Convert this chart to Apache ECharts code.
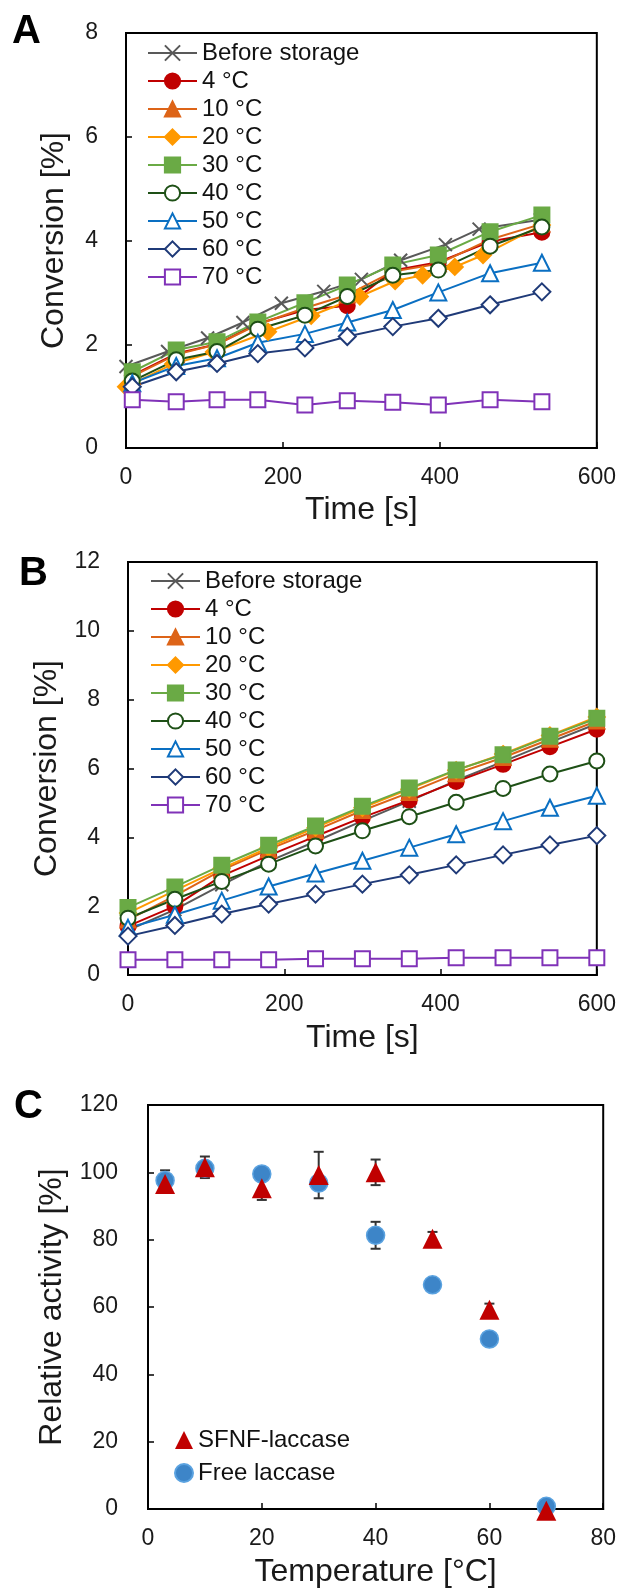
<!DOCTYPE html>
<html>
<head>
<meta charset="utf-8">
<script src="https://cdn.jsdelivr.net/npm/echarts@6/dist/echarts.min.js"></script>
<style>
html, body { margin: 0; padding: 0; background: #fff; }
#main { width: 619px; height: 1591px; }
</style>
</head>
<body>
<div id="main"></div>
<script>
// ---- data ----
var names = ['Before storage', '4 °C', '10 °C', '20 °C', '30 °C', '40 °C', '50 °C', '60 °C', '70 °C'];

// panel A (time in s, conversion in %)
var timeA = [8, 64, 116, 168, 228, 282, 340, 398, 464, 530];
var timeABefore = [0, 53, 104, 149, 198, 252, 300, 350, 407, 450, 528];
var timeA20 = [0, 60, 112, 181, 236, 298, 343, 378, 419, 455, 530];
var aBefore = [1.57, 1.86, 2.12, 2.42, 2.79, 3.02, 3.25, 3.62, 3.92, 4.22, 4.40];
var a4 = [1.40, 1.82, 2.00, 2.40, 2.66, 2.74, 3.42, 3.58, 3.98, 4.16];
var a10 = [1.38, 1.80, 2.00, 2.38, 2.70, 2.95, 3.40, 3.55, 4.02, 4.32];
var a20 = [1.18, 1.62, 1.85, 2.24, 2.55, 2.92, 3.22, 3.33, 3.49, 3.72, 4.30];
var a30 = [1.47, 1.89, 2.05, 2.43, 2.80, 3.14, 3.53, 3.72, 4.17, 4.49];
var a40 = [1.29, 1.70, 1.86, 2.29, 2.56, 2.92, 3.33, 3.43, 3.89, 4.26];
var a50 = [1.25, 1.58, 1.73, 2.03, 2.20, 2.42, 2.66, 3.00, 3.37, 3.57];
var a60 = [1.18, 1.47, 1.63, 1.82, 1.93, 2.15, 2.34, 2.50, 2.76, 3.01];
var a70 = [0.93, 0.89, 0.93, 0.93, 0.83, 0.91, 0.88, 0.83, 0.93, 0.89];

// panel B
var timeB = [0, 60, 120, 180, 240, 300, 360, 420, 480, 540, 600];
var bBefore = [1.30, 1.90, 2.62, 3.30, 3.88, 4.48, 5.05, 5.65, 6.20, 6.76, 7.30];
var b4 = [1.42, 2.00, 2.88, 3.47, 4.03, 4.58, 5.08, 5.62, 6.12, 6.63, 7.14];
var b10 = [1.60, 2.30, 3.05, 3.65, 4.20, 4.78, 5.30, 5.85, 6.32, 6.85, 7.38];
var b20 = [1.80, 2.45, 3.10, 3.70, 4.28, 4.86, 5.40, 5.95, 6.42, 6.96, 7.50];
var b30 = [1.96, 2.56, 3.19, 3.77, 4.33, 4.90, 5.43, 5.96, 6.40, 6.94, 7.46];
var b40 = [1.65, 2.20, 2.72, 3.22, 3.75, 4.19, 4.60, 5.02, 5.42, 5.84, 6.22];
var b50 = [1.37, 1.75, 2.16, 2.57, 2.95, 3.32, 3.70, 4.09, 4.47, 4.86, 5.21];
var b60 = [1.13, 1.44, 1.77, 2.06, 2.35, 2.64, 2.91, 3.20, 3.49, 3.78, 4.05];
var b70 = [0.44, 0.44, 0.44, 0.44, 0.47, 0.47, 0.47, 0.50, 0.50, 0.50, 0.50];

// panel C (temperature in °C, relative activity in %)
var tempC = [3, 10, 20, 30, 40, 50, 60, 70];
var sfnf = [96.5, 101.5, 95.3, 99.2, 100.0, 80.3, 59.2, -0.5];
var sfnfErr = [1.5, 3.2, 3.5, 6.9, 3.8, 2.0, 1.8, 0];
var freeLac = [97.6, 101.2, 99.5, 96.8, 81.3, 66.6, 50.5, 0.8];
var freeErr = [3.0, 1.5, 1.0, 1.0, 4.0, 0.8, 0.8, 0];

var ticksA = [0, 2, 4, 6, 8];
var ticksB = [0, 2, 4, 6, 8, 10, 12];

// ---- styles ----
var FONT = '"Liberation Sans", Arial, sans-serif';
var crossPath = 'path://M0,0L10,10M10,0L0,10';
var looks = [
  { color: '#595959', symbol: crossPath, size: 13, fill: 'none' },
  { color: '#C00000', symbol: 'circle', size: 15 },
  { color: '#DD6418', symbol: 'triangle', size: 15 },
  { color: '#FF9900', symbol: 'diamond', size: 16 },
  { color: '#6AAA45', symbol: 'rect', size: 15 },
  { color: '#1E5016', symbol: 'emptyCircle', size: 15 },
  { color: '#0A6FC2', symbol: 'emptyTriangle', size: 16 },
  { color: '#1F3A78', symbol: 'emptyDiamond', size: 17 },
  { color: '#8032B8', symbol: 'emptyRect', size: 15 }
];

function pairs(xs, ys) {
  return ys.map(function (y, i) { return [xs[i], y]; });
}

function lineSeries(idx, grid, xs, ys) {
  var lk = looks[idx];
  var s = {
    name: names[idx],
    type: 'line',
    xAxisIndex: grid,
    yAxisIndex: grid,
    data: pairs(xs, ys),
    symbol: lk.symbol,
    symbolSize: lk.size,
    showSymbol: true,
    color: lk.color,
    lineStyle: { color: lk.color, width: 2 },
    itemStyle: { color: lk.color, borderColor: lk.color, borderWidth: 2 },
    emphasis: { disabled: true },
    animation: false
  };
  if (lk.fill === 'none') {
    s.itemStyle = { color: 'rgba(0,0,0,0)', borderColor: lk.color, borderWidth: 2 };
  }
  return s;
}

function axisCommon() {
  return {
    axisLine: { show: true, lineStyle: { color: '#000', width: 2 } },
    axisTick: { show: true, inside: true, length: 6, lineStyle: { color: '#000', width: 1.5 } },
    splitLine: { show: false },
    axisLabel: { color: '#1a1a1a', fontSize: 23, fontFamily: FONT },
    nameLocation: 'middle',
    nameTextStyle: { color: '#1a1a1a', fontSize: 32, fontFamily: FONT }
  };
}

function xAx(grid, max, interval, name, gap) {
  var a = axisCommon();
  a.type = 'value'; a.gridIndex = grid; a.min = 0; a.max = max; a.interval = interval;
  a.name = name; a.nameGap = gap;
  a.axisLabel.margin = 18;
  return a;
}

function yAx(grid, max, interval, name, gap, margin) {
  var a = axisCommon();
  a.type = 'value'; a.gridIndex = grid; a.min = 0; a.max = max; a.interval = interval;
  a.name = name; a.nameGap = gap;
  a.axisLabel.margin = margin;
  return a;
}

var series = [];
// A
series.push(lineSeries(0, 0, timeABefore, aBefore));
series.push(lineSeries(1, 0, timeA, a4));
series.push(lineSeries(2, 0, timeA, a10));
series.push(lineSeries(3, 0, timeA20, a20));
series.push(lineSeries(4, 0, timeA, a30));
series.push(lineSeries(5, 0, timeA, a40));
series.push(lineSeries(6, 0, timeA, a50));
series.push(lineSeries(7, 0, timeA, a60));
series.push(lineSeries(8, 0, timeA, a70));
// B
[bBefore, b4, b10, b20, b30, b40, b50, b60, b70].forEach(function (ys, i) {
  series.push(lineSeries(i, 1, timeB, ys));
});

// C error bars
function errData(vals, errs) {
  return vals.map(function (v, i) { return [tempC[i], v - errs[i], v + errs[i]]; });
}
function errRender(params, api) {
  var x = api.value(0);
  var lo = api.coord([x, api.value(1)]);
  var hi = api.coord([x, api.value(2)]);
  var st = { stroke: '#333', lineWidth: 2 };
  return {
    type: 'group',
    children: [
      { type: 'line', shape: { x1: lo[0], y1: lo[1], x2: hi[0], y2: hi[1] }, style: st },
      { type: 'line', shape: { x1: lo[0] - 5, y1: lo[1], x2: lo[0] + 5, y2: lo[1] }, style: st },
      { type: 'line', shape: { x1: hi[0] - 5, y1: hi[1], x2: hi[0] + 5, y2: hi[1] }, style: st }
    ]
  };
}
series.push({ type: 'custom', xAxisIndex: 2, yAxisIndex: 2, renderItem: errRender,
  data: errData(freeLac, freeErr), z: 1, animation: false, silent: true });
series.push({ type: 'custom', xAxisIndex: 2, yAxisIndex: 2, renderItem: errRender,
  data: errData(sfnf, sfnfErr), z: 1, animation: false, silent: true });
series.push({ name: 'SFNF-laccase', type: 'scatter', xAxisIndex: 2, yAxisIndex: 2,
  data: pairs(tempC, sfnf), symbol: 'triangle', symbolSize: 20, z: 3, clip: false,
  itemStyle: { color: '#C00000', opacity: 1 },
  emphasis: { disabled: true }, animation: false });
series.push({ name: 'Free laccase', type: 'scatter', xAxisIndex: 2, yAxisIndex: 2,
  data: pairs(tempC, freeLac), symbol: 'circle', symbolSize: 18, z: 2,
  itemStyle: { color: '#3D85C8', borderColor: '#5AA2E0', borderWidth: 1.5, opacity: 1 },
  emphasis: { disabled: true }, animation: false });

var legendBase = {
  orient: 'vertical',
  padding: 0,
  itemGap: 4,
  itemWidth: 49,
  itemHeight: 19,
  selectedMode: false,
  textStyle: { color: '#111', fontSize: 24, fontFamily: FONT }
};

var option = {
  backgroundColor: '#fff',
  animation: false,
  graphic: [
    { type: 'text', left: 12, top: 12, style: { text: 'A', font: 'bold 40px ' + FONT, fill: '#000' } },
    { type: 'text', left: 19, top: 554, style: { text: 'B', font: 'bold 40px ' + FONT, fill: '#000' } },
    { type: 'text', left: 14, top: 1087, style: { text: 'C', font: 'bold 40px ' + FONT, fill: '#000' } }
  ],
  grid: [
    { left: 126, top: 33, width: 471, height: 415, show: true, borderColor: '#000', borderWidth: 2, backgroundColor: '#fff' },
    { left: 128, top: 562, width: 470, height: 413, show: true, borderColor: '#000', borderWidth: 2, backgroundColor: '#fff' },
    { left: 148, top: 1105, width: 456, height: 404, show: true, borderColor: '#000', borderWidth: 2, backgroundColor: '#fff' }
  ],
  xAxis: [
    xAx(0, 600, 200, 'Time [s]', 46),
    xAx(1, 600, 200, 'Time [s]', 47),
    xAx(2, 80, 20, 'Temperature [°C]', 47)
  ],
  yAxis: [
    yAx(0, ticksA[ticksA.length - 1], ticksA[1] - ticksA[0], 'Conversion [%]', 56, 28),
    yAx(1, ticksB[ticksB.length - 1], ticksB[1] - ticksB[0], 'Conversion [%]', 60, 28),
    yAx(2, 120, 20, 'Relative activity [%]', 80, 30)
  ],
  legend: [
    Object.assign({}, legendBase, { left: 147, top: 41, data: names }),
    Object.assign({}, legendBase, { left: 150, top: 569, data: names }),
    Object.assign({}, legendBase, { left: 174, top: 1428, itemWidth: 18, itemHeight: 18, itemGap: 9,
      data: ['SFNF-laccase', 'Free laccase'] })
  ],
  series: series
};

var chart = echarts.init(document.getElementById('main'), null, { renderer: 'canvas' });
chart.setOption(option);
</script>
</body>
</html>
